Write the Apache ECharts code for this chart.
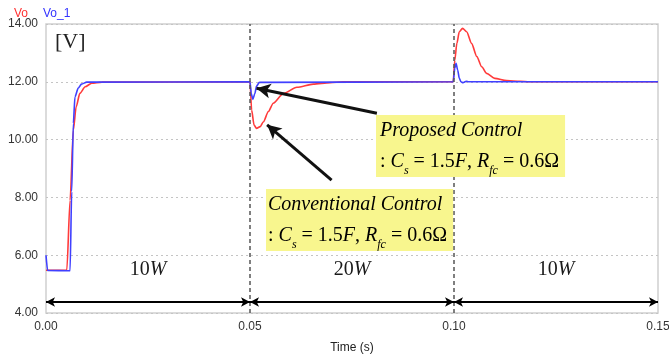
<!DOCTYPE html>
<html>
<head>
<meta charset="utf-8">
<script src="https://cdn.jsdelivr.net/npm/echarts@6/dist/echarts.min.js"></script>
<style>
  html, body { margin: 0; padding: 0; background: #fff; }
  #main { width: 669px; height: 356px; }
</style>
</head>
<body>
<div id="main"></div>
<script>
// Vo : conventional control (red)
const voTime = [0, 0.0051, 0.0059, 0.0067, 0.0074, 0.0083, 0.0096, 0.0112, 0.0137,
  0.0500, 0.0504, 0.0510, 0.0516, 0.0525, 0.0533, 0.0545, 0.0557, 0.0582, 0.0615, 0.0655, 0.0696, 0.0727,
  0.0998, 0.1002, 0.1007, 0.1013, 0.1021, 0.1031, 0.1043, 0.1056, 0.1068, 0.1080, 0.1100, 0.1129, 0.1162, 0.1185, 0.15];
const voValue = [5.48, 5.49, 7.9, 10.33, 11.14, 11.6, 11.83, 11.95, 11.99,
  12.0, 11.02, 10.5, 10.39, 10.45, 10.62, 10.97, 11.26, 11.6, 11.81, 11.92, 11.97, 12.0,
  12.0, 12.75, 13.33, 13.73, 13.85, 13.73, 13.33, 12.87, 12.52, 12.29, 12.12, 12.04, 12.02, 12.0, 12.0];

// Vo_1 : proposed control (blue)
const vo1Time = [0, 0.0004, 0.0059, 0.0063, 0.0067, 0.0071, 0.0079, 0.0087, 0.0100,
  0.0500, 0.0503, 0.0507, 0.0512, 0.0516, 0.0523,
  0.0998, 0.1002, 0.1005, 0.1009, 0.1013, 0.1017, 0.1022, 0.1030, 0.1036, 0.15];
const vo1Value = [6.0, 5.47, 5.46, 8.2, 10.56, 11.48, 11.78, 11.92, 11.99,
  12.0, 11.6, 11.39, 11.6, 11.85, 11.98,
  12.0, 12.47, 12.64, 12.41, 12.12, 12.0, 11.97, 12.02, 12.0, 12.0];

// load steps along the bottom
const loadEdges = [0, 0.05, 0.10, 0.15];
const loadPower = ['10', '20', '10'];
const loadArrowV = 4.38;
const loadTextV = 5.5;
const stepLines = [0.05, 0.10];

// annotation arrows: [tail t, tail v, head t, head v]
const proposedArrow = [0.0811, 10.91, 0.0516, 11.78];
const conventionalArrow = [0.0700, 8.60, 0.0542, 10.51];

const pairs = (ts, vs) => ts.map((t, i) => [t, vs[i]]);

const serif = 'Liberation Serif';
const boxRich = {
  i: { fontFamily: serif, fontStyle: 'italic', fontSize: 20, color: '#1a1a1a', lineHeight: 31 },
  t: { fontFamily: serif, fontSize: 20, color: '#1a1a1a', lineHeight: 31 },
  sub: { fontFamily: serif, fontStyle: 'italic', fontSize: 12, color: '#1a1a1a', lineHeight: 31, verticalAlign: 'bottom' }
};
const paramLine = '{t|: }{i|C}{sub|s}{t| = 1.5}{i|F}{t|, }{i|R}{sub|fc}{t| = 0.6Ω}';

const arrowItem = (a) => [
  { coord: [a[0], a[1]], symbol: 'none' },
  { coord: [a[2], a[3]], symbol: 'arrow', symbolSize: [11, 14] }
];

const segArrows = loadPower.map((p, i) => [
  { coord: [loadEdges[i], loadArrowV], symbol: 'arrow', symbolSize: [7, 9] },
  { coord: [loadEdges[i + 1], loadArrowV], symbol: 'arrow', symbolSize: [7, 9] }
]);

const chart = echarts.init(document.getElementById('main'));

const option = {
  animation: false,
  backgroundColor: '#fff',
  grid: {
    left: 46, right: 11, top: 24, bottom: 43, outerBoundsMode: 'none',
    show: true, borderColor: '#cfcfcf', borderWidth: 1.5
  },
  legend: {
    left: 4, top: 3, itemWidth: 0, itemHeight: 0, itemGap: 10, icon: 'none',
    textStyle: { fontFamily: 'Liberation Sans', fontSize: 12 },
    data: [
      { name: 'Vo', textStyle: { color: '#ff3030' } },
      { name: 'Vo_1', textStyle: { color: '#3333ff' } }
    ]
  },
  xAxis: {
    type: 'value', min: 0, max: 0.15, interval: 0.05,
    name: 'Time (s)', nameLocation: 'middle', nameGap: 29,
    nameTextStyle: { fontFamily: 'Liberation Sans', fontSize: 12, color: '#222' },
    axisLine: { show: false }, axisTick: { show: false }, splitLine: { show: false },
    axisLabel: { formatter: v => v.toFixed(2), fontFamily: 'Liberation Sans', fontSize: 12, color: '#333', margin: 8 }
  },
  yAxis: {
    type: 'value', min: 4, max: 14, interval: 2,
    axisLine: { show: false }, axisTick: { show: false },
    splitLine: { show: true, lineStyle: { color: '#c4c4c4', type: [2, 3], width: 1 } },
    axisLabel: { formatter: v => v.toFixed(2), fontFamily: 'Liberation Sans', fontSize: 12, color: '#333', margin: 8 }
  },
  series: [
    {
      name: 'Vo', type: 'line', data: pairs(voTime, voValue), showSymbol: false,
      lineStyle: { color: '#ff3b3b', width: 1.6 }, itemStyle: { color: '#ff3b3b' },
      smooth: 0.25, smoothMonotone: 'x', z: 2,
      markLine: {
        silent: true, animation: false, label: { show: false },
        symbol: ['none', 'none'],
        data: [
          ...stepLines.map(x => ({ xAxis: x, symbol: 'none', lineStyle: { color: '#555', type: [4, 3], width: 1.5 } })),
          ...segArrows.map(s => { s[0].lineStyle = { color: '#000', type: 'solid', width: 2 }; return s; }),
          ...[proposedArrow, conventionalArrow].map(a => {
            const it = arrowItem(a);
            it[0].lineStyle = { color: '#111', type: 'solid', width: 3 };
            return it;
          })
        ]
      },
      markPoint: {
        silent: true, symbol: 'circle', symbolSize: 1,
        itemStyle: { color: 'rgba(0,0,0,0)' },
        label: {
          show: true, position: 'inside', formatter: p => '{n|' + p.name + '}{w|W}',
          rich: {
            n: { fontFamily: serif, fontSize: 20, color: '#1a1a1a' },
            w: { fontFamily: serif, fontStyle: 'italic', fontSize: 20, color: '#1a1a1a' }
          }
        },
        data: loadPower.map((p, i) => ({ name: p, coord: [(loadEdges[i] + loadEdges[i + 1]) / 2, loadTextV] }))
      }
    },
    {
      name: 'Vo_1', type: 'line', data: pairs(vo1Time, vo1Value), showSymbol: false,
      lineStyle: { color: '#4040ff', width: 1.6 }, itemStyle: { color: '#4040ff' },
      smooth: 0.25, smoothMonotone: 'x', z: 3
    }
  ],
  graphic: [
    { type: 'text', left: 55, top: 31, style: { text: '[V]', font: '22px "Liberation Serif"', fill: '#222' } },
    {
      type: 'text', left: 376, top: 115, z: 10,
      style: {
        text: '{i|Proposed Control}\n' + paramLine, rich: boxRich,
        backgroundColor: '#f8f68e', padding: [0, 6, 0, 4]
      }
    },
    {
      type: 'text', left: 266, top: 189, z: 10,
      style: {
        text: '{i|Conventional Control}\n' + paramLine, rich: boxRich,
        backgroundColor: '#f8f68e', padding: [0, 6, 0, 2]
      }
    }
  ]
};

chart.setOption(option);
</script>
</body>
</html>
